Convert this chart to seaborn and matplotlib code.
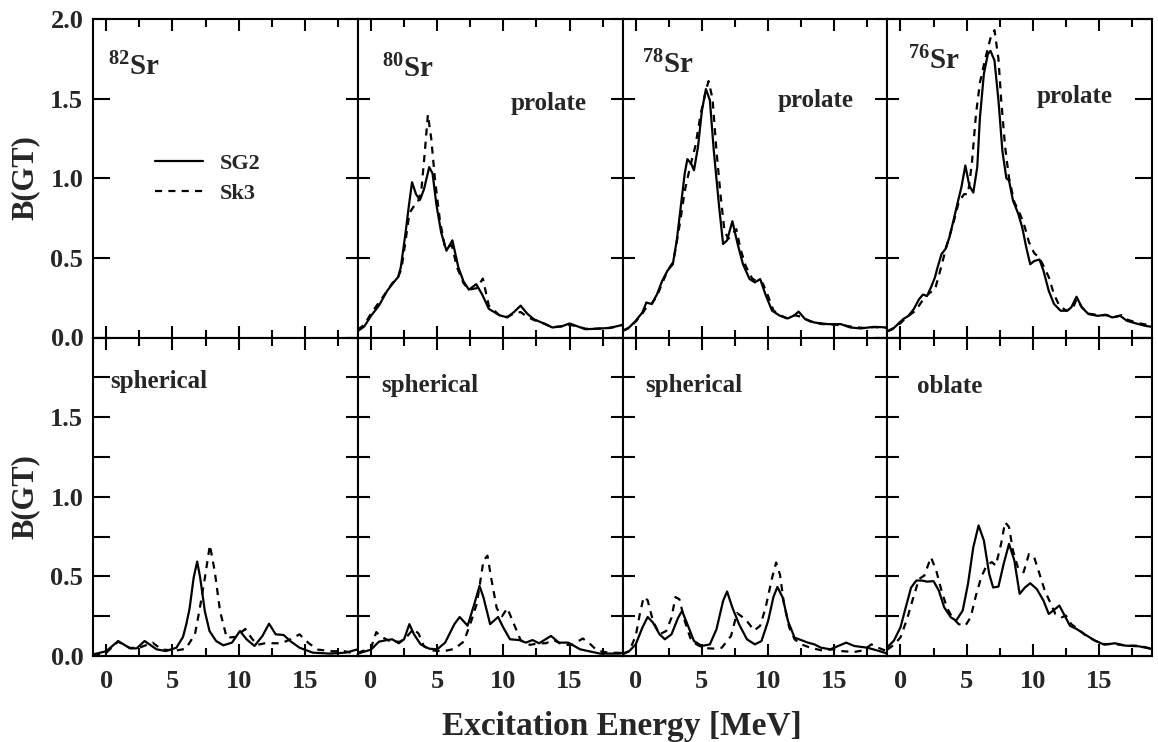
import matplotlib
matplotlib.use("Agg")
import matplotlib.pyplot as plt
from matplotlib.lines import Line2D
from matplotlib.ticker import MultipleLocator, FuncFormatter
import seaborn as sns
import pandas as pd

# ---- Gamow-Teller strength distributions, B(GT) vs excitation energy [MeV] ----
# Upper row (deformed solutions)
SR80_TOP_SG2_E = [-1, -0.5, 0, 0.6, 1.2, 1.6, 2.05, 2.25, 2.6, 2.85, 3.1, 3.4, 3.7, 4.0, 4.4, 4.65, 4.95, 5.3, 5.7, 6.15,
                  6.6, 7.0, 7.4, 7.95, 8.4, 8.9, 9.7, 10.3, 10.8, 11.3, 11.8, 12.3, 13.0, 13.7, 14.4, 15.0, 15.6, 16.2,
                  17.0, 18.0, 18.7, 19]
SR80_TOP_SG2_B = [0.04, 0.07, 0.136, 0.2, 0.29, 0.335, 0.38, 0.44, 0.65, 0.82, 0.975, 0.9, 0.864, 0.93, 1.07, 1.03, 0.83,
                  0.66, 0.545, 0.61, 0.44, 0.35, 0.3, 0.335, 0.27, 0.18, 0.14, 0.126, 0.16, 0.2, 0.15, 0.115, 0.09,
                  0.063, 0.07, 0.088, 0.07, 0.052, 0.055, 0.06, 0.073, 0.08]
SR80_TOP_SK3_E = [-1, -0.5, 0, 0.6, 1.2, 1.6, 2.05, 2.3, 2.6, 2.9, 3.2, 3.5, 3.8, 4.05, 4.3, 4.55, 4.85, 5.2, 5.6, 6.1,
                  6.5, 7.0, 7.4, 8.0, 8.45, 8.9, 9.7, 10.3, 10.8, 11.3, 11.8, 12.3, 13.0, 13.7, 14.4, 15.0, 15.6, 16.2,
                  17.0, 18.0, 18.7, 19]
SR80_TOP_SK3_B = [0.05, 0.08, 0.15, 0.22, 0.29, 0.34, 0.38, 0.43, 0.6, 0.78, 0.82, 0.84, 0.92, 1.15, 1.4, 1.25, 0.98,
                  0.74, 0.56, 0.58, 0.44, 0.34, 0.3, 0.31, 0.37, 0.2, 0.14, 0.13, 0.15, 0.16, 0.13, 0.11, 0.09, 0.065,
                  0.07, 0.08, 0.07, 0.055, 0.055, 0.06, 0.07, 0.08]

SR78_TOP_SG2_E = [-1, -0.5, 0, 0.5, 0.8, 1.2, 1.6, 2.0, 2.4, 2.8, 3.1, 3.4, 3.7, 3.9, 4.2, 4.4, 4.7, 5.0, 5.3, 5.6, 5.9,
                  6.3, 6.6, 6.9, 7.3, 7.7, 8.1, 8.6, 9.0, 9.4, 9.8, 10.3, 10.9, 11.5, 12.0, 12.3, 12.8, 13.5, 14.5,
                  15.5, 16.2, 17.0, 18.0, 19]
SR78_TOP_SG2_B = [0.042, 0.063, 0.105, 0.157, 0.22, 0.21, 0.27, 0.356, 0.42, 0.46, 0.61, 0.82, 1.03, 1.12, 1.09, 1.05,
                  1.195, 1.425, 1.56, 1.49, 1.17, 0.82, 0.587, 0.61, 0.73, 0.587, 0.46, 0.367, 0.346, 0.367, 0.27,
                  0.168, 0.136, 0.12, 0.14, 0.163, 0.115, 0.094, 0.084, 0.084, 0.063, 0.057, 0.067, 0.063]
SR78_TOP_SK3_E = [-1, -0.5, 0, 0.5, 0.8, 1.2, 1.6, 2.0, 2.4, 2.8, 3.0, 3.4, 3.7, 4.1, 4.5, 4.9, 5.3, 5.5, 5.8, 6.1, 6.4,
                  6.7, 7.0, 7.3, 7.6, 7.9, 8.3, 8.8, 9.2, 9.6, 10.0, 10.4, 10.9, 11.4, 12.0, 12.5, 13.2, 14.0, 15.0,
                  15.8, 16.5, 17.3, 18.0, 19]
SR78_TOP_SK3_B = [0.04, 0.06, 0.1, 0.15, 0.19, 0.21, 0.26, 0.34, 0.42, 0.47, 0.55, 0.75, 0.92, 1.07, 1.2, 1.4, 1.55,
                  1.61, 1.5, 1.17, 0.9, 0.67, 0.62, 0.65, 0.68, 0.56, 0.45, 0.37, 0.35, 0.34, 0.26, 0.17, 0.14, 0.12,
                  0.14, 0.13, 0.1, 0.085, 0.08, 0.075, 0.065, 0.06, 0.065, 0.06]

SR76_TOP_SG2_E = [-1, -0.6, -0.2, 0.2, 0.6, 1.0, 1.4, 1.7, 2.0, 2.3, 2.6, 2.8, 3.1, 3.4, 3.7, 4.0, 4.3, 4.6, 4.9, 5.2,
                  5.5, 5.8, 6.0, 6.3, 6.6, 6.8, 7.1, 7.4, 7.7, 8.0, 8.2, 8.5, 8.9, 9.2, 9.5, 9.8, 10.1, 10.5, 10.8,
                  11.2, 11.6, 12.1, 12.6, 12.9, 13.3, 13.7, 14.2, 14.9, 15.5, 16.0, 16.6, 17.1, 17.8, 18.5, 19]
SR76_TOP_SG2_B = [0.038, 0.052, 0.084, 0.115, 0.136, 0.178, 0.24, 0.27, 0.26, 0.314, 0.377, 0.44, 0.524, 0.556, 0.63,
                  0.734, 0.84, 0.943, 1.08, 0.954, 0.91, 1.07, 1.38, 1.656, 1.78, 1.80, 1.74, 1.49, 1.17, 1.0, 0.985,
                  0.86, 0.776, 0.69, 0.566, 0.46, 0.48, 0.49, 0.42, 0.293, 0.21, 0.168, 0.168, 0.189, 0.256, 0.189,
                  0.147, 0.136, 0.143, 0.126, 0.136, 0.105, 0.088, 0.073, 0.067]
SR76_TOP_SK3_E = [-1, -0.5, 0, 0.5, 1.0, 1.4, 1.8, 2.2, 2.6, 3.0, 3.5, 4.0, 4.4, 4.8, 5.1, 5.4, 5.7, 6.0, 6.4, 6.8, 7.1,
                  7.4, 7.6, 7.9, 8.2, 8.6, 8.9, 9.3, 9.7, 10.1, 10.5, 10.8, 11.2, 11.6, 12.0, 12.5, 13.0, 13.3, 13.7,
                  14.2, 15.0, 15.6, 16.2, 16.7, 17.2, 18.0, 18.6, 19]
SR76_TOP_SK3_B = [0.04, 0.06, 0.09, 0.13, 0.16, 0.2, 0.25, 0.28, 0.3, 0.42, 0.58, 0.72, 0.85, 0.9, 0.9, 1.1, 1.4, 1.6,
                  1.75, 1.88, 1.93, 1.75, 1.5, 1.2, 1.0, 0.85, 0.8, 0.72, 0.6, 0.53, 0.5, 0.45, 0.38, 0.27, 0.2, 0.17,
                  0.18, 0.24, 0.19, 0.15, 0.14, 0.14, 0.13, 0.14, 0.11, 0.09, 0.08, 0.07]

# Lower row (spherical / oblate solutions)
SR82_BOT_SG2_E = [-1, 0, 0.9, 1.8, 2.3, 2.9, 3.8, 4.5, 5.3, 5.8, 6.05, 6.3, 6.6, 6.87, 7.1, 7.45, 7.8, 8.3, 8.85, 9.5,
                  10.1, 10.6, 11.2, 11.8, 12.3, 12.8, 13.4, 13.9, 14.6, 15.6, 16.9, 18.1, 19]
SR82_BOT_SG2_B = [0.01, 0.03, 0.094, 0.048, 0.048, 0.094, 0.042, 0.031, 0.052, 0.12, 0.2, 0.3, 0.49, 0.593, 0.49, 0.28,
                  0.157, 0.094, 0.067, 0.084, 0.157, 0.105, 0.063, 0.126, 0.203, 0.136, 0.132, 0.094, 0.052, 0.021,
                  0.015, 0.021, 0.042]
SR82_BOT_SK3_E = [-1, 0, 0.9, 1.8, 2.6, 3.5, 4.2, 5.3, 6.0, 6.7, 7.07, 7.45, 7.83, 8.2, 8.6, 9.1, 9.8, 10.5, 11.0, 11.4,
                  12.0, 12.5, 13.2, 13.8, 14.6, 15.3, 16.0, 17.0, 18.0, 19]
SR82_BOT_SK3_B = [0.005, 0.02, 0.09, 0.05, 0.055, 0.084, 0.04, 0.035, 0.045, 0.136, 0.3, 0.49, 0.696, 0.53, 0.28, 0.115,
                  0.12, 0.17, 0.11, 0.07, 0.08, 0.08, 0.08, 0.1, 0.136, 0.08, 0.04, 0.03, 0.03, 0.01]

SR80_BOT_SG2_E = [-1, 0, 0.6, 1.2, 1.6, 2.1, 2.5, 2.9, 3.25, 3.75, 4.4, 5.0, 5.6, 6.3, 6.7, 7.3, 7.8, 8.2, 8.5, 9.0, 9.6,
                  10.0, 10.5, 11.2, 11.7, 12.2, 12.7, 13.6, 14.2, 14.9, 15.8, 17.3, 18.8, 19]
SR80_BOT_SG2_B = [0.015, 0.04, 0.09, 0.1, 0.105, 0.08, 0.105, 0.2, 0.136, 0.073, 0.046, 0.042, 0.084, 0.2, 0.245, 0.19,
                  0.325, 0.44, 0.367, 0.2, 0.245, 0.178, 0.105, 0.1, 0.084, 0.1, 0.08, 0.126, 0.084, 0.084, 0.042,
                  0.015, 0.015, 0.02]
SR80_BOT_SK3_E = [-1, 0, 0.4, 0.8, 1.5, 2.2, 2.7, 3.2, 3.6, 4.0, 4.6, 5.5, 6.3, 7.0, 7.5, 8.0, 8.5, 8.8, 9.1, 9.5, 9.9,
                  10.3, 10.8, 11.3, 12.0, 12.7, 13.2, 13.8, 14.5, 15.2, 16.0, 16.5, 17.0, 17.3, 18.0, 19]
SR80_BOT_SK3_B = [0.02, 0.05, 0.15, 0.12, 0.09, 0.09, 0.12, 0.17, 0.14, 0.06, 0.035, 0.03, 0.045, 0.09, 0.2, 0.33, 0.6,
                  0.63, 0.48, 0.3, 0.25, 0.3, 0.2, 0.1, 0.07, 0.08, 0.08, 0.1, 0.07, 0.07, 0.11, 0.08, 0.04, 0.03,
                  0.02, 0.02]

SR78_BOT_SG2_E = [-1, -0.5, 0, 0.5, 0.9, 1.3, 1.8, 2.2, 2.7, 3.2, 3.5, 3.9, 4.4, 5.0, 5.6, 6.1, 6.6, 6.9, 7.3, 7.8, 8.4,
                  9.0, 9.5, 10.0, 10.4, 10.7, 11.1, 11.5, 12.0, 12.5, 13.0, 13.5, 14.0, 14.7, 15.3, 15.9, 16.5, 17.5,
                  18.4, 19]
SR78_BOT_SG2_B = [0.015, 0.03, 0.073, 0.178, 0.245, 0.21, 0.136, 0.105, 0.136, 0.24, 0.283, 0.2, 0.094, 0.063, 0.073,
                  0.168, 0.346, 0.405, 0.304, 0.2, 0.105, 0.073, 0.094, 0.22, 0.37, 0.434, 0.367, 0.22, 0.115, 0.1,
                  0.084, 0.073, 0.052, 0.042, 0.063, 0.084, 0.063, 0.052, 0.031, 0.015]
SR78_BOT_SK3_E = [-1, -0.5, 0, 0.3, 0.6, 0.9, 1.3, 1.8, 2.3, 2.7, 3.0, 3.3, 3.7, 4.2, 4.8, 5.5, 6.0, 6.5, 7.2, 7.65, 8.3,
                  8.95, 9.4, 9.8, 10.3, 10.6, 10.9, 11.2, 11.6, 12.0, 12.5, 13.2, 14.0, 15.0, 15.5, 16.5, 17.2, 17.8,
                  18.3, 19]
SR78_BOT_SK3_B = [0.01, 0.03, 0.126, 0.26, 0.37, 0.35, 0.22, 0.136, 0.157, 0.24, 0.37, 0.356, 0.22, 0.094, 0.063, 0.048,
                  0.046, 0.052, 0.126, 0.27, 0.23, 0.16, 0.19, 0.3, 0.49, 0.587, 0.51, 0.325, 0.178, 0.105, 0.073,
                  0.052, 0.036, 0.042, 0.031, 0.025, 0.036, 0.073, 0.052, 0.03]

SR76_BOT_SG2_E = [-1, -0.5, 0, 0.4, 0.8, 1.2, 1.6, 2.0, 2.5, 2.9, 3.3, 3.8, 4.2, 4.7, 5.1, 5.5, 5.9, 6.3, 6.7, 7.0, 7.4,
                  7.8, 8.2, 8.6, 9.0, 9.4, 9.8, 10.3, 10.8, 11.2, 11.7, 12.0, 12.4, 12.8, 13.3, 14.0, 14.7, 15.4, 16.2,
                  17.0, 18.0, 19]
SR76_BOT_SG2_B = [0.055, 0.096, 0.18, 0.306, 0.43, 0.474, 0.474, 0.467, 0.47, 0.41, 0.306, 0.243, 0.222, 0.285, 0.453,
                  0.683, 0.82, 0.725, 0.516, 0.43, 0.436, 0.58, 0.704, 0.6, 0.39, 0.43, 0.457, 0.42, 0.348, 0.264,
                  0.296, 0.317, 0.254, 0.19, 0.17, 0.132, 0.096, 0.071, 0.08, 0.065, 0.061, 0.044]
SR76_BOT_SK3_E = [-1, -0.5, 0, 0.5, 0.9, 1.4, 1.8, 2.3, 2.7, 3.1, 3.5, 3.9, 4.4, 4.9, 5.3, 5.7, 6.1, 6.5, 6.9, 7.2, 7.6,
                  7.9, 8.2, 8.5, 8.9, 9.3, 9.7, 10.1, 10.5, 10.9, 11.3, 11.7, 12.2, 12.5, 12.9, 13.4, 14.0, 14.7, 15.4,
                  16.2, 17.0, 18.0, 19]
SR76_BOT_SK3_B = [0.04, 0.07, 0.117, 0.233, 0.348, 0.484, 0.505, 0.62, 0.537, 0.41, 0.306, 0.243, 0.2, 0.19, 0.243,
                  0.38, 0.495, 0.568, 0.59, 0.568, 0.704, 0.84, 0.81, 0.66, 0.547, 0.526, 0.64, 0.62, 0.516, 0.41,
                  0.338, 0.264, 0.243, 0.254, 0.2, 0.17, 0.128, 0.096, 0.075, 0.075, 0.065, 0.065, 0.045]

ISOTOPES = ["82", "80", "78", "76"]
TOP_SHAPES = ["", "prolate", "prolate", "prolate"]
BOTTOM_SHAPES = ["spherical", "spherical", "spherical", "oblate"]
MODELS = ["SG2", "Sk3"]

PANELS = {
    (0, 1): (SR80_TOP_SG2_E, SR80_TOP_SG2_B, SR80_TOP_SK3_E, SR80_TOP_SK3_B),
    (0, 2): (SR78_TOP_SG2_E, SR78_TOP_SG2_B, SR78_TOP_SK3_E, SR78_TOP_SK3_B),
    (0, 3): (SR76_TOP_SG2_E, SR76_TOP_SG2_B, SR76_TOP_SK3_E, SR76_TOP_SK3_B),
    (1, 0): (SR82_BOT_SG2_E, SR82_BOT_SG2_B, SR82_BOT_SK3_E, SR82_BOT_SK3_B),
    (1, 1): (SR80_BOT_SG2_E, SR80_BOT_SG2_B, SR80_BOT_SK3_E, SR80_BOT_SK3_B),
    (1, 2): (SR78_BOT_SG2_E, SR78_BOT_SG2_B, SR78_BOT_SK3_E, SR78_BOT_SK3_B),
    (1, 3): (SR76_BOT_SG2_E, SR76_BOT_SG2_B, SR76_BOT_SK3_E, SR76_BOT_SK3_B),
}

sns.set_theme(style="ticks")
plt.rcParams["font.family"] = ["Liberation Serif", "DejaVu Serif"]
plt.rcParams["font.weight"] = "bold"
plt.rcParams["axes.labelweight"] = "bold"
plt.rcParams["mathtext.fontset"] = "custom"
plt.rcParams["mathtext.rm"] = "Liberation Serif:bold"
plt.rcParams["mathtext.bf"] = "Liberation Serif:bold"
plt.rcParams["mathtext.it"] = "Liberation Serif:bold"
plt.rcParams["mathtext.default"] = "rm"

LW = 1.6
DASH = (3.2, 2.8)
TICK_FS = 19

fig, axes = plt.subplots(2, 4, figsize=(11.58, 7.42), dpi=100)
fig.subplots_adjust(left=93 / 1158, right=1152 / 1158, top=1 - 19 / 742, bottom=1 - 656 / 742,
                    wspace=0, hspace=0)


def bottom_fmt(v, _):
    k = v / 0.5
    if abs(k - round(k)) < 1e-6 and v < 1.99:
        return f"{v:.1f}"
    return ""


for r in range(2):
    for c in range(4):
        ax = axes[r, c]
        if (r, c) in PANELS:
            e1, b1, e2, b2 = PANELS[(r, c)]
            df = pd.concat([
                pd.DataFrame({"E": e1, "B": b1, "model": MODELS[0]}),
                pd.DataFrame({"E": e2, "B": b2, "model": MODELS[1]}),
            ], ignore_index=True)
            sns.lineplot(data=df, x="E", y="B", style="model", style_order=MODELS,
                         dashes={"SG2": "", "Sk3": DASH}, color="black", lw=LW,
                         estimator=None, sort=False, legend=False, ax=ax)
        ax.set_xlim(-1, 19)
        ax.set_ylim(0, 2.0)
        ax.set_xlabel("")
        ax.set_ylabel("")
        ax.xaxis.set_major_locator(MultipleLocator(5))
        ax.xaxis.set_minor_locator(MultipleLocator(2.5))
        if r == 0:
            ax.yaxis.set_major_locator(MultipleLocator(0.5))
            ax.yaxis.set_major_formatter(FuncFormatter(lambda v, _: f"{v:.1f}"))
        else:
            ax.yaxis.set_major_locator(MultipleLocator(0.25))
            ax.yaxis.set_major_formatter(FuncFormatter(bottom_fmt))
        ax.tick_params(which="both", direction="in", top=True, right=True, width=1.5,
                       labelsize=TICK_FS, color="black")
        ax.tick_params(axis="x", which="major", length=8.6, pad=10)
        ax.tick_params(axis="x", which="minor", length=5.5)
        ax.tick_params(axis="y", which="major", length=8.4, pad=7)
        ax.tick_params(labelleft=(c == 0), labelbottom=(r == 1))
        for sp in ax.spines.values():
            sp.set_linewidth(1.5)
            sp.set_color("black")
        for lab in ax.get_xticklabels() + ax.get_yticklabels():
            lab.set_fontweight("bold")
        # longer ticks on the outer frame
        if c == 0:
            for t in ax.yaxis.get_major_ticks():
                t.tick1line.set_markersize(12.2)
        if c == 3:
            for t in ax.yaxis.get_major_ticks():
                t.tick2line.set_markersize(12.2)

# isotope names
iso_pos = [(0.057, 0.824), (0.09, 0.818), (0.072, 0.83), (0.079, 0.843)]
for c, iso in enumerate(ISOTOPES):
    x, y = iso_pos[c]
    axes[0, c].text(x, y, r"$^{%s}$Sr" % iso, transform=axes[0, c].transAxes,
                    fontsize=21, fontweight="bold", ha="left", va="baseline")

# shape labels
top_pos = [None, (0.577, 0.714), (0.585, 0.723), (0.566, 0.736)]
for c, shape in enumerate(TOP_SHAPES):
    if shape:
        x, y = top_pos[c]
        axes[0, c].text(x, y, shape, transform=axes[0, c].transAxes, fontsize=18,
                        fontweight="bold", ha="left", va="baseline")
bot_pos = [(0.064, 0.843), (0.087, 0.83), (0.087, 0.83), (0.113, 0.825)]
for c, shape in enumerate(BOTTOM_SHAPES):
    x, y = bot_pos[c]
    axes[1, c].text(x, y, shape, transform=axes[1, c].transAxes, fontsize=18,
                    fontweight="bold", ha="left", va="baseline")

# legend in the empty upper-left panel
handles = [Line2D([], [], color="black", lw=LW, linestyle="-"),
           Line2D([], [], color="black", lw=LW, linestyle=(0, DASH))]
axes[0, 0].legend(handles, MODELS, loc="upper left", bbox_to_anchor=(0.234, 0.579),
                  frameon=False, handlelength=2.15, handletextpad=0.75,
                  labelspacing=0.43, borderpad=0, borderaxespad=0,
                  prop={"family": ["Liberation Serif"], "weight": "bold", "size": 16})

# axis titles
for r, yc in enumerate([178, 496.5]):
    fig.text(25 / 1158, 1 - yc / 742, "B(GT)", rotation=90, ha="center", va="center",
             fontsize=22, fontweight="bold")
fig.text(622 / 1158, 1 - 735 / 742, "Excitation Energy [MeV]", ha="center", va="baseline",
         fontsize=24, fontweight="bold")

fig.savefig("out.png", dpi=100)
